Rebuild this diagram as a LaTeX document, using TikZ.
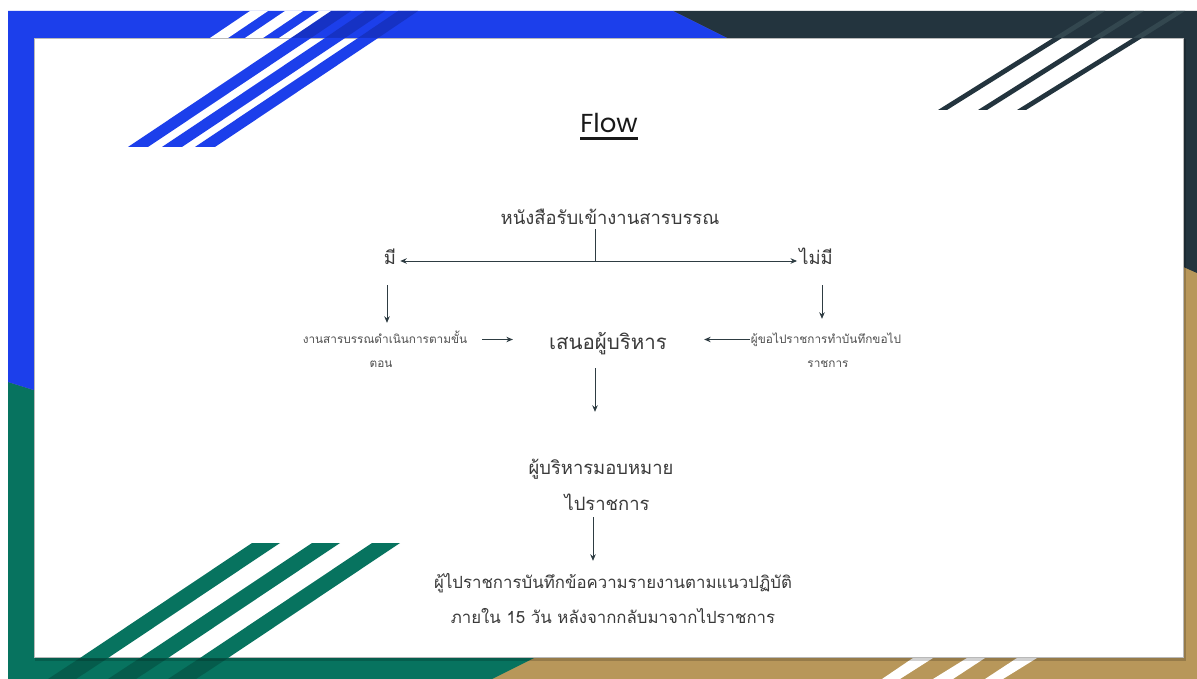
\documentclass[tikz,border=0pt]{standalone}
\usepackage{fontspec}
\newfontfamily\thai[Script=Thai]{Loma}
\newfontfamily\flowfont{Poppins}
\usetikzlibrary{arrows.meta}
\definecolor{cblue}{HTML}{1C3FEB}
\definecolor{cblued}{HTML}{1632C4}
\definecolor{cdark}{HTML}{23343E}
\definecolor{cdarkl}{HTML}{33474F}
\definecolor{cgreen}{HTML}{07735F}
\definecolor{cgreend}{HTML}{055C4C}
\definecolor{cgold}{HTML}{B8975A}
\definecolor{txt}{HTML}{3A3A3A}
\definecolor{txtsmall}{HTML}{505050}
\definecolor{lnc}{HTML}{2E3C42}
\begin{document}
\begin{tikzpicture}[x=1pt,y=-1pt,
  big/.style={font=\thai\fontsize{18.4}{19}\selectfont, text=txt, inner sep=0pt, text height=14pt, text depth=4pt, anchor=base},
  sentext/.style={big, font=\thai\fontsize{20.5}{21}\selectfont},
  low/.style={font=\thai\fontsize{16.8}{18}\selectfont, text=txt, inner sep=0pt, text height=13pt, text depth=4pt, anchor=base},
  small/.style={font=\thai\fontsize{11.8}{12}\selectfont, text=txtsmall, inner sep=0pt, text height=10pt, text depth=3pt, anchor=base},
  conn/.style={draw=lnc, line width=0.9pt},
  arr/.style={conn, -{Stealth[length=6.5pt,width=5.5pt]}}]
\useasboundingbox (0,0) rectangle (1197,679);
% background
\fill[white] (0,0) rectangle (1197,679);
\fill[cgold] (8,11) rectangle (1197,679);
\fill[cgreen] (8,382) -- (40,392) -- (40,640) -- (570,640) -- (492,679) -- (8,679) -- cycle;
\fill[cdark] (673,11) -- (1197,11) -- (1197,273) -- (1170,261) -- (1170,50) -- (751,50) -- cycle;
\fill[cblue] (8,11) -- (673,11) -- (751,50) -- (40,50) -- (40,392) -- (8,382) -- cycle;
% band stripes
\fill[white] (250,11) -- (268,11) -- (228,38) -- (210,38) -- cycle;
\fill[white] (285,11) -- (303,11) -- (263,38) -- (245,38) -- cycle;
\fill[white] (319,11) -- (337,11) -- (297,38) -- (279,38) -- cycle;
\fill[cblued] (291,38) -- (311,38) -- (351,11) -- (331,11) -- cycle;
\fill[cblued] (325,38) -- (345,38) -- (385,11) -- (365,11) -- cycle;
\fill[cblued] (358,38) -- (378,38) -- (418,11) -- (398,11) -- cycle;
\fill[cdarkl] (1053,38) -- (1062,38) -- (1105,11) -- (1096,11) -- cycle;
\fill[cdarkl] (1092,38) -- (1101,38) -- (1144,11) -- (1135,11) -- cycle;
\fill[cdarkl] (1133,38) -- (1142,38) -- (1185,11) -- (1176,11) -- cycle;
\fill[cgreend] (80,658) -- (108,658) -- (76,679) -- (48,679) -- cycle;
\fill[cgreend] (140,658) -- (168,658) -- (136,679) -- (108,679) -- cycle;
\fill[cgreend] (200,658) -- (228,658) -- (196,679) -- (168,679) -- cycle;
\fill[white] (882,679) -- (900,679) -- (933,658) -- (913,658) -- cycle;
\fill[white] (933,679) -- (953,679) -- (985,658) -- (967,658) -- cycle;
\fill[white] (985,679) -- (1003,679) -- (1037,658) -- (1017,658) -- cycle;
% white sheet
\fill[black,opacity=0.18] (35,39) rectangle (1186,661);
\fill[white, draw=gray!55, line width=0.6pt] (34,38) rectangle (1183,657);
% sheet stripes
\fill[cblue] (128,147) -- (148,147) -- (311,38) -- (291,38) -- cycle;
\fill[cblue] (162,147) -- (182,147) -- (345,38) -- (325,38) -- cycle;
\fill[cblue] (195,147) -- (215,147) -- (378,38) -- (358,38) -- cycle;
\fill[cdark] (938,110) -- (947,110) -- (1062,38) -- (1053,38) -- cycle;
\fill[cdark] (978,110) -- (987,110) -- (1101,38) -- (1092,38) -- cycle;
\fill[cdark] (1017,110) -- (1026,110) -- (1142,38) -- (1133,38) -- cycle;
\fill[cgreen] (252,543) -- (280,543) -- (108,658) -- (80,658) -- cycle;
\fill[cgreen] (312,543) -- (340,543) -- (168,658) -- (140,658) -- cycle;
\fill[cgreen] (372,543) -- (400,543) -- (228,658) -- (200,658) -- cycle;
% title
\node[font=\flowfont\fontsize{26}{26}\selectfont, text=black!90, inner sep=0pt, text height=19pt, text depth=5.5pt, anchor=base] (title) at (609,133) {Flow};
\draw[black!90, line width=2.8pt] (title.south west) -- (title.south east);
% nodes
\node[big] (top) at (610,225) {หนังสือรับเข้างานสารบรรณ};
\node[big] (mi) at (390,265) {มี};
\node[big] (maimi) at (816,265) {ไม่มี};
\node[small] (l1) at (385,343) {งานสารบรรณดำเนินการตามขั้น};
\node[small] (l2) at (381,367) {ตอน};
\node[sentext] (sen) at (608,349) {เสนอผู้บริหาร};
\node[small] (r1) at (826,343) {ผู้ขอไปราชการทำบันทึกขอไป};
\node[small] (r2) at (828,367) {ราชการ};
\node[big] (m1) at (601,474) {ผู้บริหารมอบหมาย};
\node[big] (m2) at (607,510) {ไปราชการ};
\node[low] (b1) at (613,588) {ผู้ไปราชการบันทึกข้อความรายงานตามแนวปฏิบัติ};
\node[low] (b2) at (613,623) {ภายใน 15 วัน หลังจากกลับมาจากไปราชการ};
% connectors
\coordinate (j) at (595,261);
\draw[conn] (top.south -| j) -- (j);
\draw[arr, shorten >=4pt] (j) -- (mi.east |- j);
\draw[arr, shorten >=2pt] (j) -- (maimi.west |- j);
\draw[arr, shorten <=16pt, shorten >=10pt] ([xshift=-3pt]mi.south) -- ([xshift=-3pt]mi.south |- l1.north);
\draw[arr, shorten <=16pt, shorten >=14pt] ([xshift=6pt]maimi.south) -- ([xshift=6pt]maimi.south |- r1.north);
\draw[arr, shorten <=15pt, shorten >=36pt] (l1.east) -- (sen.west |- l1.east);
\draw[arr, shorten <=1pt, shorten >=37pt] (r1.west) -- (sen.east |- r1.west);
\draw[arr, shorten <=15pt, shorten >=48pt] (sen.south -| j) -- (m1.north -| j);
\draw[arr, shorten <=3pt, shorten >=14pt] ([xshift=-2pt]m2.south -| j) -- ([xshift=-2pt]b1.north -| j);
\end{tikzpicture}
\end{document}
